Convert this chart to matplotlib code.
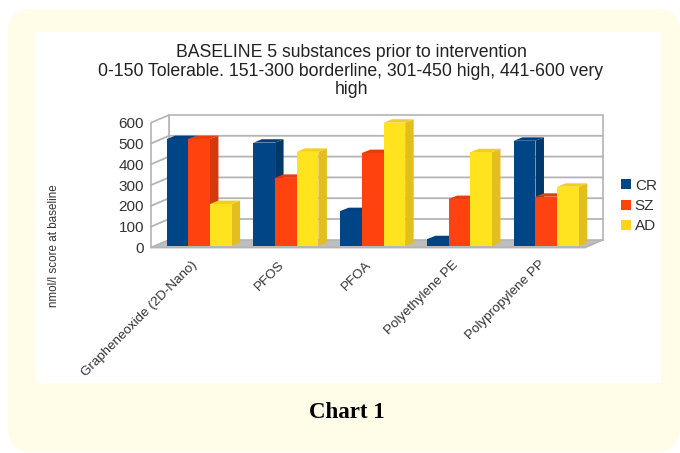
import matplotlib
matplotlib.use("Agg")
import matplotlib.pyplot as plt
from matplotlib.patches import FancyBboxPatch, Polygon, Patch, Rectangle

categories = ["Grapheneoxide (2D-Nano)", "PFOS", "PFOA", "Polyethylene PE", "Polypropylene PP"]
series_names = ["CR", "SZ", "AD"]
cr_values = [514, 497, 168, 33, 506]
sz_values = [514, 328, 447, 226, 237]
ad_values = [202, 453, 593, 451, 285]
y_ticks = [0, 100, 200, 300, 400, 500, 600]
title_text = ("BASELINE 5 substances prior to intervention\n"
              "0-150 Tolerable. 151-300 borderline, 301-450 high, 441-600 very\nhigh")
y_label = "nmol/l score at baseline"
caption = "Chart 1"

front = ["#004586", "#FF420E", "#FFE31E"]
side = ["#00386C", "#D4380C", "#E2BE1E"]
top = ["#00407C", "#E83C0D", "#F2CE1E"]
legend_cols = ["#004586", "#FF420E", "#FFD320"]
W, H = 680, 453
plt.rcParams["font.family"] = ["Liberation Sans", "DejaVu Sans"]

fig = plt.figure(figsize=(W / 100, H / 100), dpi=100, facecolor="white")
bg = fig.add_axes([0, 0, 1, 1], zorder=0)
bg.set_xlim(0, W); bg.set_ylim(H, 0); bg.axis("off")
bg.add_patch(FancyBboxPatch((8 + 24, 9 + 24), 672 - 48, 443 - 48,
                            boxstyle="round,pad=24,rounding_size=24",
                            fc="#FFFCE8", ec="none", clip_on=True))
bg.add_patch(Rectangle((36, 32), 625, 351, fc="white", ec="none"))
bg.text(347, 413, caption, ha="center", va="center", fontsize=16.5,
        fontweight="bold", family="Liberation Serif", color="black")

L, R, Y0, Y6 = 151, 585, 247.5, 122.7
ax = fig.add_axes([L / W, 1 - Y0 / H, (R - L) / W, (Y0 - Y6) / H], zorder=1)
ax.patch.set_alpha(0)
n = len(categories)
ax.set_xlim(0, n); ax.set_ylim(0, y_ticks[-1])
px_x = n / (R - L)
px_y = y_ticks[-1] / (Y0 - Y6)

# plot box depth
DX, DY = 18 * px_x, 7.7 * px_y
grid = "#B4B4B4"
top_v = y_ticks[-1]
ax.add_patch(Polygon([(0, 0), (DX, DY), (n + DX, DY), (n, 0)], fc="#BEBEBE", ec="none", clip_on=False, zorder=1))
ax.add_patch(Polygon([(DX, DY), (n + DX, DY), (n + DX, top_v + DY), (DX, top_v + DY)],
                     fc="white", ec=grid, lw=1.2, clip_on=False, zorder=1))
ax.add_patch(Polygon([(0, 0), (DX, DY), (DX, top_v + DY), (0, top_v)],
                     fc="white", ec=grid, lw=1.2, clip_on=False, zorder=1))
for t in y_ticks[1:-1]:
    ax.plot([0, DX, n + DX], [t, t + DY, t + DY], color=grid, lw=1.3, clip_on=False, zorder=2)
ax.plot([0, n, n + DX], [0, 0, DY], color=grid, lw=1.3, clip_on=False, zorder=2)

# bars
bw = 21.65 * px_x
dx, dy = 8.5 * px_x, 3.4 * px_y
base = 1.5 * px_y
shift = 4.7 * px_x
z = 3
for i in range(n):
    centre = i + 0.5 + shift
    for s, vals in enumerate((cr_values, sz_values, ad_values)):
        x0 = centre + (s - 1.5) * bw
        x1 = x0 + bw
        v = vals[i] + base
        ax.add_patch(Polygon([(x1, base), (x1 + dx, base + dy), (x1 + dx, v + dy), (x1, v)],
                             fc=side[s], ec="none", clip_on=False, zorder=z))
        ax.add_patch(Polygon([(x0, v), (x0 + dx, v + dy), (x1 + dx, v + dy), (x1, v)],
                             fc=top[s], ec="none", clip_on=False, zorder=z))
        ax.bar(x0, vals[i], width=bw, bottom=base, align="edge", color=front[s], zorder=z + 1, clip_on=False)
        z += 2

for sp in ax.spines.values():
    sp.set_visible(False)
ax.set_yticks(y_ticks)
ax.set_xticks([i + 0.5 - 3 * px_x for i in range(n)])
ax.set_xticklabels(categories, rotation=45, ha="right", rotation_mode="anchor",
                   fontsize=9.6, color="#333333")
ax.tick_params(axis="y", length=0, pad=5, labelsize=11, labelcolor="#333333")
ax.tick_params(axis="x", length=0, pad=8)

fig.text(54 / W, 1 - 246 / H, y_label, rotation=90, ha="center", va="center",
         fontsize=8.4, color="#333333")
fig.text(351 / W, 1 - 71 / H, title_text, ha="center", va="center", fontsize=12.7,
         linespacing=1.12, color="#222222")

handles = [Patch(fc=c, ec="none", label=l) for c, l in zip(legend_cols, series_names)]
ax.legend(handles=handles, loc="center left", bbox_to_anchor=(621 / W, 1 - 206 / H),
          bbox_transform=fig.transFigure, frameon=False, fontsize=11, handlelength=0.65,
          handleheight=0.65, handletextpad=0.25, labelspacing=0.42, borderpad=0, borderaxespad=0,
          labelcolor="#333333")
fig.savefig("out.png", dpi=100, facecolor="white")
